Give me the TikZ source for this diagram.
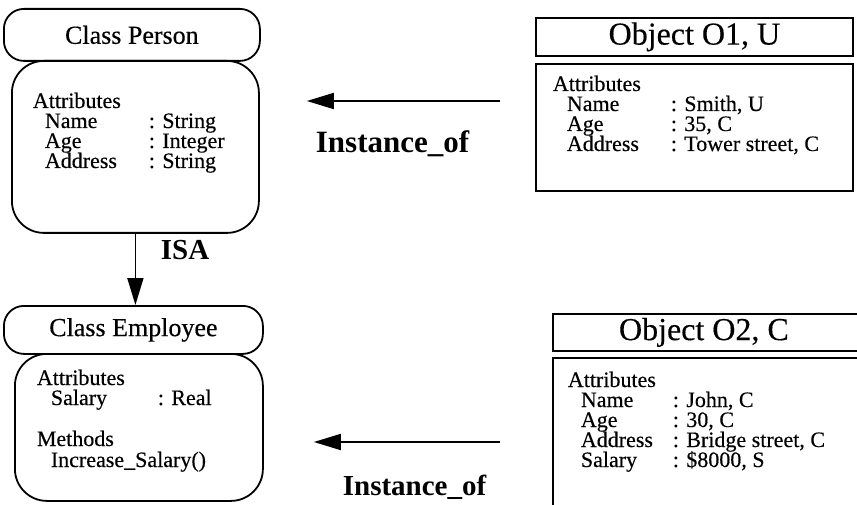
\documentclass[tikz,border=0pt]{standalone}
\usepackage{fontspec}
\setmainfont{Liberation Serif}
\newfontfamily\inkfont[FakeBold=0.35]{Liberation Serif}
\usetikzlibrary{arrows.meta}
\begin{document}
\begin{tikzpicture}[x=1pt,y=-1pt,line width=1.8pt,
  classhead/.style={draw,rounded corners=20pt,inner sep=0pt,anchor=north west,
    font=\inkfont\fontsize{26}{26}\selectfont},
  classbody/.style={draw,rounded corners=32pt,inner sep=0pt,anchor=north west},
  objhead/.style={draw,inner sep=0pt,anchor=north west,font=\inkfont\fontsize{32}{32}\selectfont},
  objbody/.style={draw,inner sep=0pt,anchor=north west},
  txt/.style={anchor=base west,inner sep=0pt,text height=14.5pt,text depth=4.5pt,
    font=\inkfont\fontsize{22}{22}\selectfont},
  biglabel/.style={anchor=base west,inner sep=0pt,font=\bfseries\fontsize{31}{31}\selectfont},
  link/.style={-{Triangle[length=27pt,width=16pt]},line width=1.8pt}]
\useasboundingbox (0,0) rectangle (857,505);
\clip (0,0) rectangle (857,505);

% Class Person
\node[classhead,minimum width=256pt,minimum height=52pt] (phead) at (3,8) {Class Person};
\node[classbody,minimum width=247pt,minimum height=172pt] (pbody) at (11,60) {};
\node[txt] (pattr) at (32,108) {Attributes};
\node[txt] (pname) at (44,128) {Name};
\node[txt] (pnamev) at (148,128) {: String};
\node[txt] (page) at (44,148) {Age};
\node[txt] (pagev) at (148,148) {: Integer};
\node[txt] (paddr) at (44,168) {Address};
\node[txt] (paddrv) at (148,168) {: String};

% Class Employee
\node[classhead,minimum width=259pt,minimum height=48pt] (ehead) at (3,305) {Class Employee};
\node[classbody,minimum width=248pt,minimum height=147pt] (ebody) at (14,353) {};
\node[txt] (eattr) at (36,385) {Attributes};
\node[txt] (esal) at (50,405) {Salary};
\node[txt] (esalv) at (157,405) {: Real};
\node[txt] (emeth) at (36,446) {Methods};
\node[txt] (einc) at (50,467) {Increase\_Salary()};

% Object O1
\node[objhead,minimum width=317pt,minimum height=38pt] (o1head) at (535,17) {Object O1, U};
\node[objbody,minimum width=317pt,minimum height=127pt] (o1body) at (535,63) {};
\node[txt] (o1attr) at (552,91) {Attributes};
\node[txt] (o1name) at (566,111) {Name};
\node[txt] (o1namev) at (670,111) {: Smith, U};
\node[txt] (o1age) at (566,131) {Age};
\node[txt] (o1agev) at (670,131) {: 35, C};
\node[txt] (o1addr) at (566,151) {Address};
\node[txt] (o1addrv) at (670,151) {: Tower street, C};

% Object O2 (runs past the right and bottom edges)
\node[objhead,minimum width=330pt,minimum height=37pt] (o2head) at (552,313) {Object O2, C\hspace*{28pt}};
\node[objbody,minimum width=330pt,minimum height=170pt] (o2body) at (552,357) {};
\node[txt] (o2attr) at (567,387) {Attributes};
\node[txt] (o2name) at (580,407) {Name};
\node[txt] (o2namev) at (672,407) {: John, C};
\node[txt] (o2age) at (580,427) {Age};
\node[txt] (o2agev) at (672,427) {: 30, C};
\node[txt] (o2addr) at (580,447) {Address};
\node[txt] (o2addrv) at (672,447) {: Bridge street, C};
\node[txt] (o2sal) at (580,467) {Salary};
\node[txt] (o2salv) at (672,467) {: \$8000, S};

% ISA link
\draw[link] (pbody.south) -- (pbody.south |- ehead.north);
\node[biglabel,font=\bfseries\fontsize{29}{29}\selectfont] (isa) at (160,260) {ISA};

% Instance_of links
\coordinate (i1) at (0,101);
\coordinate (i2) at (0,442);
\draw[link,shorten <=35pt,shorten >=47pt] (o1body.west |- i1) -- (pbody.east |- i1);
\draw[link,shorten <=52pt,shorten >=50pt] (o2body.west |- i2) -- (ebody.east |- i2);
\node[biglabel] (inst1) at (315,153) {Instance\_of};
\node[biglabel,font=\bfseries\fontsize{29}{29}\selectfont] (inst2) at (342,495) {Instance\_of};
\end{tikzpicture}
\end{document}
